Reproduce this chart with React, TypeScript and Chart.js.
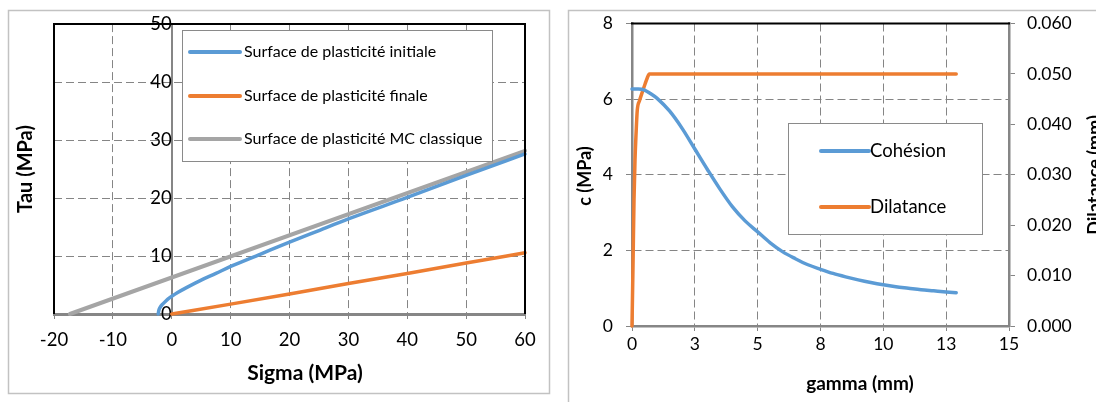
import { useEffect, useRef } from 'react';
import { Chart, registerables } from 'chart.js';

Chart.register(...registerables);

const FAMILY = 'Lato, Carlito, "Noto Sans", sans-serif';
const BLUE = '#5B9BD5';
const ORANGE = '#ED7D31';
const GRAY = '#A5A5A5';
const GRID = '#858585';
const AXIS = '#868686';

// ---------- Left chart data (Sigma / Tau, MPa) ----------
const sigmaInitial = [-2.3, -2.2, -2.0, -1.5, -1, -0.5, 0, 1, 2.5, 5, 7.5, 10, 15, 20, 25, 30, 40, 50, 60];
const tauInitial = [0, 0.6, 1.1, 1.75, 2.25, 2.7, 3.05, 3.7, 4.55, 5.85, 7.0, 8.2, 10.3, 12.4, 14.4, 16.4, 20.1, 23.9, 27.6];
const sigmaFinal = [0, 10, 20, 30, 40, 50, 60];
const tauFinal = [0, 1.7, 3.45, 5.25, 7.0, 8.8, 10.55];
const sigmaMC = [-17.3, 60];
const tauMC = [0, 28.15];
const leftLabels = [
  'Surface de plasticité initiale',
  'Surface de plasticité finale',
  'Surface de plasticité MC classique',
];

// ---------- Right chart data (gamma, c, dilatance) ----------
const gammaCohesion = [0, 0.25, 0.5, 0.75, 1, 1.5, 2, 2.5, 3, 3.5, 4, 4.5, 5, 5.5, 6, 6.5, 7, 7.5, 8, 8.5, 9, 9.5, 10, 10.5, 11, 11.5, 12, 12.5, 12.9];
const cohesion = [6.27, 6.27, 6.24, 6.14, 6.02, 5.68, 5.22, 4.68, 4.14, 3.62, 3.15, 2.78, 2.49, 2.2, 1.96, 1.78, 1.62, 1.5, 1.39, 1.3, 1.22, 1.15, 1.09, 1.04, 1.0, 0.96, 0.93, 0.9, 0.88];
const gammaDilatance = [0, 0.04, 0.08, 0.12, 0.16, 0.21, 0.3, 0.39, 0.52, 0.6, 0.69, 12.9];
const dilatance = [0, 0.012, 0.025, 0.033, 0.038, 0.0428, 0.0447, 0.0461, 0.048, 0.0491, 0.05, 0.05];
const rightLabels = ['Cohésion', 'Dilatance'];
const gammaTickLabels = ['0', '3', '5', '8', '10', '13', '15'];
const dilTickLabels = ['0.000', '0.010', '0.020', '0.030', '0.040', '0.050', '0.060'];

type Title = { text: string; x: number; y: number; rot: number; font: string };
type Deco = {
  frame: [number, number, number, number];
  black: { top: boolean; left: boolean; right: boolean };
  legend: { box: [number, number, number, number]; rows: number[]; line: [number, number]; textX: number; font: string };
  titles: Title[];
};

function decoPlugin(d: Deco) {
  return {
    id: 'deco',
    beforeDraw(chart: any) {
      const ctx = chart.ctx as CanvasRenderingContext2D;
      ctx.save();
      ctx.fillStyle = '#ffffff';
      ctx.fillRect(0, 0, chart.width, chart.height);
      ctx.strokeStyle = '#c2c2c2';
      ctx.lineWidth = 1.5;
      const [x, y, w, h] = d.frame;
      ctx.strokeRect(x, y, w, h);
      ctx.restore();
    },
    afterDraw(chart: any) {
      const ctx = chart.ctx as CanvasRenderingContext2D;
      const a = chart.chartArea;
      ctx.save();
      ctx.strokeStyle = '#000000';
      ctx.lineWidth = 2;
      ctx.beginPath();
      if (d.black.top) { ctx.moveTo(a.left - 1, a.top); ctx.lineTo(a.right + 1, a.top); }
      if (d.black.left) { ctx.moveTo(a.left, a.top); ctx.lineTo(a.left, a.bottom); }
      if (d.black.right) { ctx.moveTo(a.right, a.top); ctx.lineTo(a.right, a.bottom); }
      ctx.stroke();

      // legend
      const L = d.legend;
      const [bx, by, bw, bh] = L.box;
      ctx.fillStyle = '#ffffff';
      ctx.fillRect(bx, by, bw, bh);
      ctx.strokeStyle = '#8a8a8a';
      ctx.lineWidth = 1;
      ctx.strokeRect(bx + 0.5, by + 0.5, bw, bh);
      chart.data.datasets.forEach((ds: any, i: number) => {
        const yy = L.rows[i];
        ctx.strokeStyle = ds.borderColor;
        ctx.lineWidth = 4;
        ctx.lineCap = 'round';
        ctx.beginPath();
        ctx.moveTo(L.line[0], yy);
        ctx.lineTo(L.line[1], yy);
        ctx.stroke();
        ctx.fillStyle = '#000000';
        ctx.font = L.font;
        ctx.textAlign = 'left';
        ctx.textBaseline = 'middle';
        ctx.fillText(ds.label, L.textX, yy);
      });

      // titles
      d.titles.forEach((t) => {
        ctx.save();
        ctx.translate(t.x, t.y);
        ctx.rotate(t.rot);
        ctx.font = t.font;
        ctx.fillStyle = '#000000';
        ctx.textAlign = 'center';
        ctx.textBaseline = 'middle';
        ctx.fillText(t.text, 0, 0);
        ctx.restore();
      });
      ctx.restore();
    },
  };
}

const pts = (xs: number[], ys: number[]) => xs.map((x, i) => ({ x, y: ys[i] }));

function leftConfig(): any {
  const tickFont = { family: FAMILY, size: 18.5 };
  return {
    type: 'scatter',
    data: {
      datasets: [
        { label: leftLabels[0], data: pts(sigmaInitial, tauInitial), borderColor: BLUE, backgroundColor: BLUE, showLine: true, pointRadius: 0, borderWidth: 3.5, cubicInterpolationMode: 'monotone', clip: false, borderCapStyle: 'round' },
        { label: leftLabels[1], data: pts(sigmaFinal, tauFinal), borderColor: ORANGE, backgroundColor: ORANGE, showLine: true, pointRadius: 0, borderWidth: 3.5, cubicInterpolationMode: 'monotone', clip: false, borderCapStyle: 'round' },
        { label: leftLabels[2], data: pts(sigmaMC, tauMC), borderColor: GRAY, backgroundColor: GRAY, showLine: true, pointRadius: 0, borderWidth: 4, clip: false, borderCapStyle: 'round' },
      ],
    },
    options: {
      animation: false,
      responsive: false,
      devicePixelRatio: 1,
      layout: { padding: { left: 54, right: 35, top: 23, bottom: 0 } },
      plugins: { legend: { display: false }, tooltip: { enabled: false } },
      scales: {
        x: {
          type: 'linear', position: 'bottom', min: -20, max: 60,
          ticks: { stepSize: 10, padding: 10, color: '#000', font: tickFont },
          grid: { color: GRID, lineWidth: 1, tickLength: 5 },
          border: { display: true, color: AXIS, width: 3, dash: [8, 4] },
          afterFit: (s: any) => { s.height = 88; },
        },
        y: {
          type: 'linear', position: { x: 0 }, min: 0, max: 50,
          ticks: { stepSize: 10, padding: 13, color: '#000', font: tickFont },
          grid: { color: GRID, lineWidth: 1, tickLength: 5 },
          border: { display: true, color: AXIS, width: 2, dash: [8, 4] },
        },
      },
    },
    plugins: [
      decoPlugin({
        frame: [8.5, 10.5, 541, 383],
        black: { top: true, left: true, right: true },
        legend: { box: [182, 30, 310, 131], rows: [52, 96, 139], line: [190, 240], textX: 244, font: `16px ${FAMILY}` },
        titles: [
          { text: 'Tau (MPa)', x: 26, y: 169, rot: -Math.PI / 2, font: `bold 20px ${FAMILY}` },
          { text: 'Sigma (MPa)', x: 305, y: 373, rot: 0, font: `bold 21px ${FAMILY}` },
        ],
      }),
    ],
  };
}

function rightConfig(): any {
  const tickFont = { family: FAMILY, size: 17.5 };
  return {
    type: 'scatter',
    data: {
      datasets: [
        { label: rightLabels[0], data: pts(gammaCohesion, cohesion), yAxisID: 'y', borderColor: BLUE, backgroundColor: BLUE, showLine: true, pointRadius: 0, borderWidth: 3.5, cubicInterpolationMode: 'monotone', clip: false, borderCapStyle: 'round' },
        { label: rightLabels[1], data: pts(gammaDilatance, dilatance), yAxisID: 'y1', borderColor: ORANGE, backgroundColor: ORANGE, showLine: true, pointRadius: 0, borderWidth: 3.5, cubicInterpolationMode: 'monotone', clip: false, borderCapStyle: 'round' },
      ],
    },
    options: {
      animation: false,
      responsive: false,
      devicePixelRatio: 1,
      layout: { padding: { left: 0, right: 0, top: 23, bottom: 0 } },
      plugins: { legend: { display: false }, tooltip: { enabled: false } },
      scales: {
        x: {
          type: 'linear', position: 'bottom', min: 0, max: 15,
          ticks: { stepSize: 2.5, padding: 3, color: '#000', font: tickFont, callback: (_v: any, i: number) => gammaTickLabels[i] },
          grid: { color: GRID, lineWidth: 1, tickLength: 5 },
          border: { display: true, color: AXIS, width: 2.5, dash: [8, 4] },
          afterFit: (s: any) => { s.height = 76; },
        },
        y: {
          type: 'linear', position: 'left', min: 0, max: 8,
          ticks: { stepSize: 2, padding: 13, color: '#000', font: tickFont },
          grid: { color: GRID, lineWidth: 1, tickLength: 6 },
          border: { display: true, color: AXIS, width: 2.5, dash: [8, 4] },
          afterFit: (s: any) => { s.width = 72; },
        },
        y1: {
          type: 'linear', position: 'right', min: 0, max: 0.06,
          ticks: { stepSize: 0.01, padding: 12, color: '#000', font: tickFont, callback: (_v: any, i: number) => dilTickLabels[i] },
          grid: { color: GRID, lineWidth: 1, tickLength: 6, drawOnChartArea: false },
          border: { display: true, color: AXIS, width: 2.5 },
          afterFit: (s: any) => { s.width = 87; },
        },
      },
    },
    plugins: [
      decoPlugin({
        frame: [8.5, 10.5, 600, 500],
        black: { top: true, left: false, right: false },
        legend: { box: [228, 123, 194, 111], rows: [151, 207], line: [261, 309], textX: 310, font: `18.5px ${FAMILY}` },
        titles: [
          { text: 'c (MPa)', x: 25, y: 176, rot: -Math.PI / 2, font: `bold 18px ${FAMILY}` },
          { text: 'gamma (mm)', x: 300, y: 384, rot: 0, font: `bold 19px ${FAMILY}` },
          { text: 'Dilatance (mm)', x: 535, y: 175, rot: -Math.PI / 2, font: `bold 18px ${FAMILY}` },
        ],
      }),
    ],
  };
}

export default function App() {
  const leftRef = useRef<HTMLCanvasElement>(null);
  const rightRef = useRef<HTMLCanvasElement>(null);
  useEffect(() => {
    const c1 = new Chart(leftRef.current as HTMLCanvasElement, leftConfig());
    const c2 = new Chart(rightRef.current as HTMLCanvasElement, rightConfig());
    return () => { c1.destroy(); c2.destroy(); };
  }, []);
  return (
    <div style={{ position: 'absolute', left: 0, top: 0, width: 1096, height: 402, overflow: 'hidden', background: '#fff' }}>
      <canvas ref={leftRef} width={560} height={402} style={{ position: 'absolute', left: 0, top: 0, width: 560, height: 402 }} />
      <canvas ref={rightRef} width={536} height={402} style={{ position: 'absolute', left: 560, top: 0, width: 536, height: 402 }} />
    </div>
  );
}
